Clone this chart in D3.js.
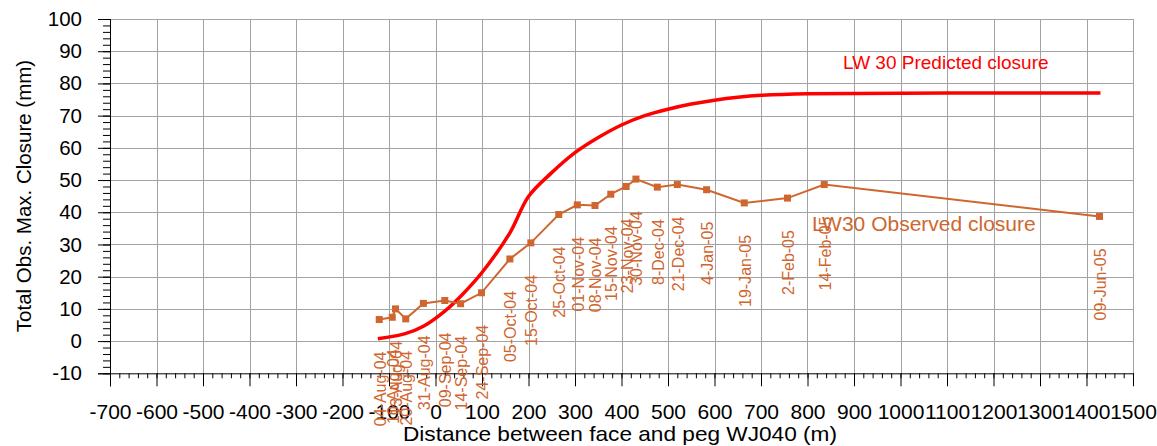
<!DOCTYPE html>
<html>
<head>
<meta charset="utf-8">
<script src="https://cdn.jsdelivr.net/npm/d3@7"></script>
<style>
	body { margin: 0; background: #fff; }
	svg { display: block; font-family: "Liberation Sans", Arial, sans-serif; }
	.grid line { stroke: #a3a3a3; stroke-width: 1; }
	.axis path, .axis line { stroke: #000; }
	.axis text { fill: #000; font-family: "Liberation Sans", Arial, sans-serif; }
	.x-axis text { font-size: 21px; }
	.y-axis text { font-size: 20.5px; }
</style>
</head>
<body>
<svg id="chart" width="1157" height="446"></svg>
<script>
// predicted closure (red curve)
var predDist = [-124, -65, -26, 20, 60, 100, 160, 200, 250, 300, 350, 400, 450, 500, 550, 600, 650, 700, 800, 1430];
var predClosure = [0.7, 2.3, 4.6, 9.3, 14.8, 21.3, 33.6, 44.9, 52.3, 58.5, 63.2, 67.1, 70.0, 72.0, 73.6, 74.8, 75.7, 76.3, 76.8, 77.0];

// observed closure (orange line with square markers)
var obsDist = [-121, -93, -86, -64, -26, 20, 54, 99, 160, 205, 265, 305, 343, 377, 410, 431, 477, 520, 583, 664, 757, 836, 1428];
var obsClosure = [6.7, 7.4, 10.0, 6.9, 11.7, 12.6, 11.6, 15.0, 25.5, 30.5, 39.3, 42.3, 42.1, 45.6, 48.0, 50.3, 47.8, 48.6, 47.0, 42.9, 44.4, 48.6, 38.7];
var obsDates = ["04-Aug-04", "10-Aug-04", "13-Aug-04", "20-Aug-04", "31-Aug-04", "09-Sep-04", "14-Sep-04", "24-Sep-04",
	"05-Oct-04", "15-Oct-04", "25-Oct-04", "01-Nov-04", "08-Nov-04", "15-Nov-04", "23-Nov-04", "30-Nov-04",
	"8-Dec-04", "21-Dec-04", "4-Jan-05", "19-Jan-05", "2-Feb-05", "14-Feb-05", "09-Jun-05"];

var xTicks = d3.range(-700, 1501, 100);
var yTicks = d3.range(-10, 101, 10);

var orange = "#cf6630";
var svg = d3.select("#chart");

var x = d3.scaleLinear().domain([-700, 1500]).range([110, 1133]);
var y = d3.scaleLinear().domain([-10, 100]).range([373.3, 19]);

// plain labels, hyphen minus and no thousands separator
var plain = function(d) { return String(d); };

// grid
var grid = svg.append("g").attr("class", "grid");
grid.selectAll("line.v").data(xTicks.slice(1)).enter().append("line")
	.attr("x1", function(d) { return Math.round(x(d)) + 0.5; })
	.attr("x2", function(d) { return Math.round(x(d)) + 0.5; })
	.attr("y1", y(100)).attr("y2", y(-10));
grid.selectAll("line.h").data(yTicks.slice(1)).enter().append("line")
	.attr("y1", function(d) { return Math.round(y(d)) + 0.5; })
	.attr("y2", function(d) { return Math.round(y(d)) + 0.5; })
	.attr("x1", x(-700)).attr("x2", x(1500));

// minor ticks
svg.append("g").attr("class", "axis")
	.attr("transform", "translate(0," + y(-10) + ")")
	.call(d3.axisBottom(x).tickValues(d3.range(-700, 1501, 20)).tickSize(5).tickFormat(""))
	.select(".domain").remove();
svg.append("g").attr("class", "axis")
	.attr("transform", "translate(" + x(-700) + ",0)")
	.call(d3.axisLeft(y).tickValues(d3.range(-10, 101, 2)).tickSize(7).tickFormat(""))
	.select(".domain").remove();

// major axes
var xAxis = svg.append("g").attr("class", "axis x-axis")
	.attr("transform", "translate(0," + y(-10) + ")")
	.call(d3.axisBottom(x).tickValues(xTicks).tickFormat(plain).tickSize(13).tickPadding(17.5).tickSizeOuter(0));
xAxis.select(".domain").attr("d", "M98,0.5H" + x(1500));

var yAxis = svg.append("g").attr("class", "axis y-axis")
	.attr("transform", "translate(" + x(-700) + ",0)")
	.call(d3.axisLeft(y).tickValues(yTicks).tickFormat(plain).tickSize(12).tickPadding(16).tickSizeOuter(0));
yAxis.select(".domain").attr("d", "M0.5," + y(100) + "V" + (y(-10) + 13));

// predicted line
var pred = predDist.map(function(d, i) { return [d, predClosure[i]]; });
svg.append("path")
	.datum(pred)
	.attr("fill", "none")
	.attr("stroke", "#ff0000")
	.attr("stroke-width", 3.5)
	.attr("stroke-linejoin", "round")
	.attr("d", d3.line().curve(d3.curveCatmullRom.alpha(0.5))
		.x(function(d) { return x(d[0]); })
		.y(function(d) { return y(d[1]); }));

// observed line
var obs = obsDist.map(function(d, i) { return { d: d, c: obsClosure[i], label: obsDates[i] }; });
svg.append("path")
	.datum(obs)
	.attr("fill", "none")
	.attr("stroke", orange)
	.attr("stroke-width", 2)
	.attr("d", d3.line()
		.x(function(d) { return x(d.d); })
		.y(function(d) { return y(d.c); }));

svg.selectAll("rect.marker").data(obs).enter().append("rect")
	.attr("class", "marker")
	.attr("x", function(d) { return x(d.d) - 3.5; })
	.attr("y", function(d) { return y(d.c) - 3.5; })
	.attr("width", 7).attr("height", 7)
	.attr("fill", orange);

// date labels under each point
svg.selectAll("text.date").data(obs).enter().append("text")
	.attr("class", "date")
	.attr("transform", function(d) { return "translate(" + x(d.d) + "," + (y(d.c) + 32) + ") rotate(-90)"; })
	.attr("text-anchor", "end")
	.attr("dy", "0.4em")
	.attr("font-size", 16)
	.attr("fill", orange)
	.text(function(d) { return d.label; });

// series labels
svg.append("text")
	.attr("x", 843).attr("y", 69)
	.attr("font-size", 19)
	.attr("fill", "#ff0000")
	.text("LW 30 Predicted closure");
svg.append("text")
	.attr("x", 812).attr("y", 231)
	.attr("font-size", 21)
	.attr("fill", orange)
	.text("LW30 Observed closure");

// axis titles
svg.append("text")
	.attr("transform", "translate(31,196) rotate(-90)")
	.attr("text-anchor", "middle")
	.attr("font-size", 20.5)
	.text("Total Obs. Max. Closure (mm)");
svg.append("text")
	.attr("x", 620).attr("y", 440.5)
	.attr("text-anchor", "middle")
	.attr("font-size", 21)
	.attr("textLength", 434)
	.attr("lengthAdjust", "spacingAndGlyphs")
	.text("Distance between face and peg WJ040 (m)");
</script>
</body>
</html>
